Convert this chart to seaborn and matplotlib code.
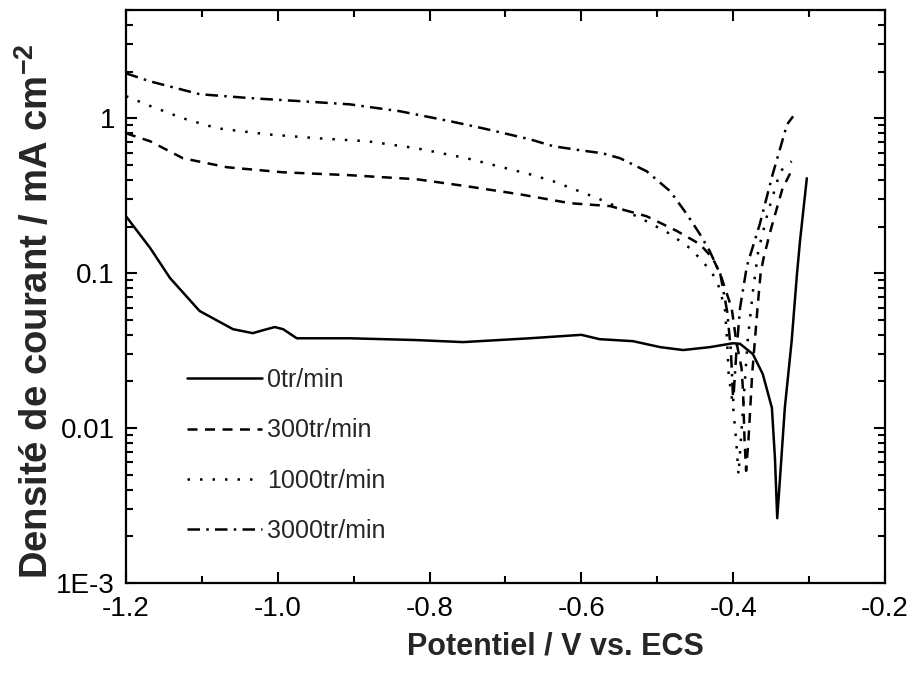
import numpy as np
import pandas as pd
import matplotlib
matplotlib.use("Agg")
import matplotlib.pyplot as plt
from matplotlib.ticker import FixedLocator, FixedFormatter, MultipleLocator, LogLocator, NullFormatter
import seaborn as sns

# data (potential in V vs ECS, current density in mA/cm2)
E_0 = [-1.200, -1.168, -1.142, -1.103, -1.059, -1.033, -1.019, -1.004, -0.993, -0.975,
       -0.905, -0.817, -0.756, -0.668, -0.600, -0.576, -0.532, -0.496, -0.466, -0.431,
       -0.400, -0.391, -0.374, -0.361, -0.349, -0.345, -0.342, -0.338, -0.332, -0.323,
       -0.316, -0.312, -0.303]
i_0 = [0.233, 0.145, 0.093, 0.057, 0.0435, 0.041, 0.0429, 0.0449, 0.0435, 0.038,
       0.038, 0.037, 0.0359, 0.038, 0.040, 0.0375, 0.0364, 0.0333, 0.0319, 0.0333,
       0.0353, 0.0350, 0.030, 0.0223, 0.0135, 0.0064, 0.00262, 0.0050, 0.0135, 0.0364,
       0.0985, 0.161, 0.41]

E_300 = [-1.200, -1.168, -1.125, -1.067, -0.993, -0.905, -0.817, -0.751, -0.681, -0.615,
         -0.562, -0.514, -0.474, -0.444, -0.427, -0.417, -0.402, -0.396, -0.389, -0.387,
         -0.385, -0.383, -0.380, -0.375, -0.368, -0.364, -0.360, -0.351, -0.335, -0.325]
i_300 = [0.80, 0.71, 0.552, 0.483, 0.448, 0.429, 0.404, 0.364, 0.323, 0.283,
         0.271, 0.233, 0.187, 0.154, 0.125, 0.0986, 0.0595, 0.0364, 0.0244, 0.0173,
         0.0082, 0.0053, 0.0082, 0.0223, 0.0595, 0.0986, 0.125, 0.187, 0.353, 0.44]

E_1000 = [-1.200, -1.168, -1.125, -1.080, -1.014, -0.948, -0.882, -0.817, -0.751, -0.668,
          -0.637, -0.579, -0.549, -0.514, -0.483, -0.457, -0.440, -0.427, -0.420, -0.411,
          -0.408, -0.406, -0.400, -0.396, -0.393, -0.387, -0.381, -0.374, -0.367, -0.355,
          -0.338, -0.323]
i_1000 = [1.39, 1.20, 1.0, 0.862, 0.788, 0.743, 0.711, 0.640, 0.552, 0.435,
          0.392, 0.305, 0.263, 0.216, 0.179, 0.145, 0.119, 0.0986, 0.085, 0.0595,
          0.0364, 0.0223, 0.0135, 0.0082, 0.0050, 0.0135, 0.0364, 0.0766, 0.139, 0.240,
          0.455, 0.528]

E_3000 = [-1.200, -1.168, -1.103, -1.037, -0.971, -0.905, -0.839, -0.773, -0.730, -0.668,
          -0.637, -0.600, -0.572, -0.549, -0.514, -0.483, -0.461, -0.444, -0.431, -0.417,
          -0.408, -0.403, -0.400, -0.396, -0.391, -0.382, -0.365, -0.348, -0.329, -0.321]
i_3000 = [1.95, 1.73, 1.43, 1.35, 1.29, 1.23, 1.11, 0.957, 0.862, 0.732,
          0.66, 0.62, 0.594, 0.552, 0.455, 0.338, 0.240, 0.179, 0.139, 0.0986,
          0.0569, 0.0314, 0.0149, 0.030, 0.0595, 0.111, 0.207, 0.435, 0.914, 1.03]

labels = ["0tr/min", "300tr/min", "1000tr/min", "3000tr/min"]
curves = [(E_0, i_0), (E_300, i_300), (E_1000, i_1000), (E_3000, i_3000)]
styles = ["-", (0, (4, 3)), (0, (1, 4)), (0, (5, 2.5, 1, 2.5))]

sns.set_style("ticks")
plt.rcParams["font.family"] = ["Liberation Sans", "DejaVu Sans"]
plt.rcParams["mathtext.fontset"] = "custom"
plt.rcParams["mathtext.rm"] = "Liberation Sans:bold"
plt.rcParams["mathtext.bf"] = "Liberation Sans:bold"

fig = plt.figure(figsize=(9.14, 6.78), dpi=100)
ax = fig.add_axes([126/914, 1-583/678, (885-126)/914, (583-10)/678])

for (E, i), lab, ls in zip(curves, labels, styles):
    sns.lineplot(x=E, y=i, sort=False, estimator=None, color="k",
                 linewidth=1.8, linestyle=ls, label=lab, ax=ax)

ax.set_yscale("log")
ax.set_xlim(-1.2, -0.2)
ax.set_ylim(1e-3, 5)

ax.xaxis.set_major_locator(FixedLocator([-1.2, -1.0, -0.8, -0.6, -0.4, -0.2]))
ax.xaxis.set_major_formatter(FixedFormatter(["-1.2", "-1.0", "-0.8", "-0.6", "-0.4", "-0.2"]))
ax.xaxis.set_minor_locator(MultipleLocator(0.1))
ax.yaxis.set_major_locator(FixedLocator([1e-3, 1e-2, 1e-1, 1]))
ax.yaxis.set_major_formatter(FixedFormatter(["1E-3", "0.01", "0.1", "1"]))
ax.yaxis.set_minor_locator(LogLocator(base=10, subs=np.arange(2, 10), numticks=20))
ax.yaxis.set_minor_formatter(NullFormatter())

ax.tick_params(which="both", direction="in", top=True, right=True, width=1.5,
               labelsize=20, colors="k")
ax.tick_params(which="major", length=8)
ax.tick_params(which="minor", length=5)
ax.tick_params(axis="x", which="major", pad=9)
ax.tick_params(axis="y", which="major", pad=8)
for s in ax.spines.values():
    s.set_linewidth(1.6)
    s.set_color("k")

ax.set_xlabel("Potentiel / V vs. ECS", fontsize=22, fontweight="bold")
ax.set_ylabel("Densité de courant / mA cm$^{-2}$", fontsize=27.5, fontweight="bold")
ax.xaxis.set_label_coords(0.566, -0.085)
ax.yaxis.set_label_coords(-0.093, 0.475)

ax.legend(loc="upper left", bbox_to_anchor=(187/914, 1-368/678), bbox_transform=fig.transFigure,
          frameon=False, fontsize=18, handlelength=3.0, handletextpad=0.2,
          labelspacing=1.05, borderpad=0, borderaxespad=0)

fig.savefig("out.png", dpi=100)
